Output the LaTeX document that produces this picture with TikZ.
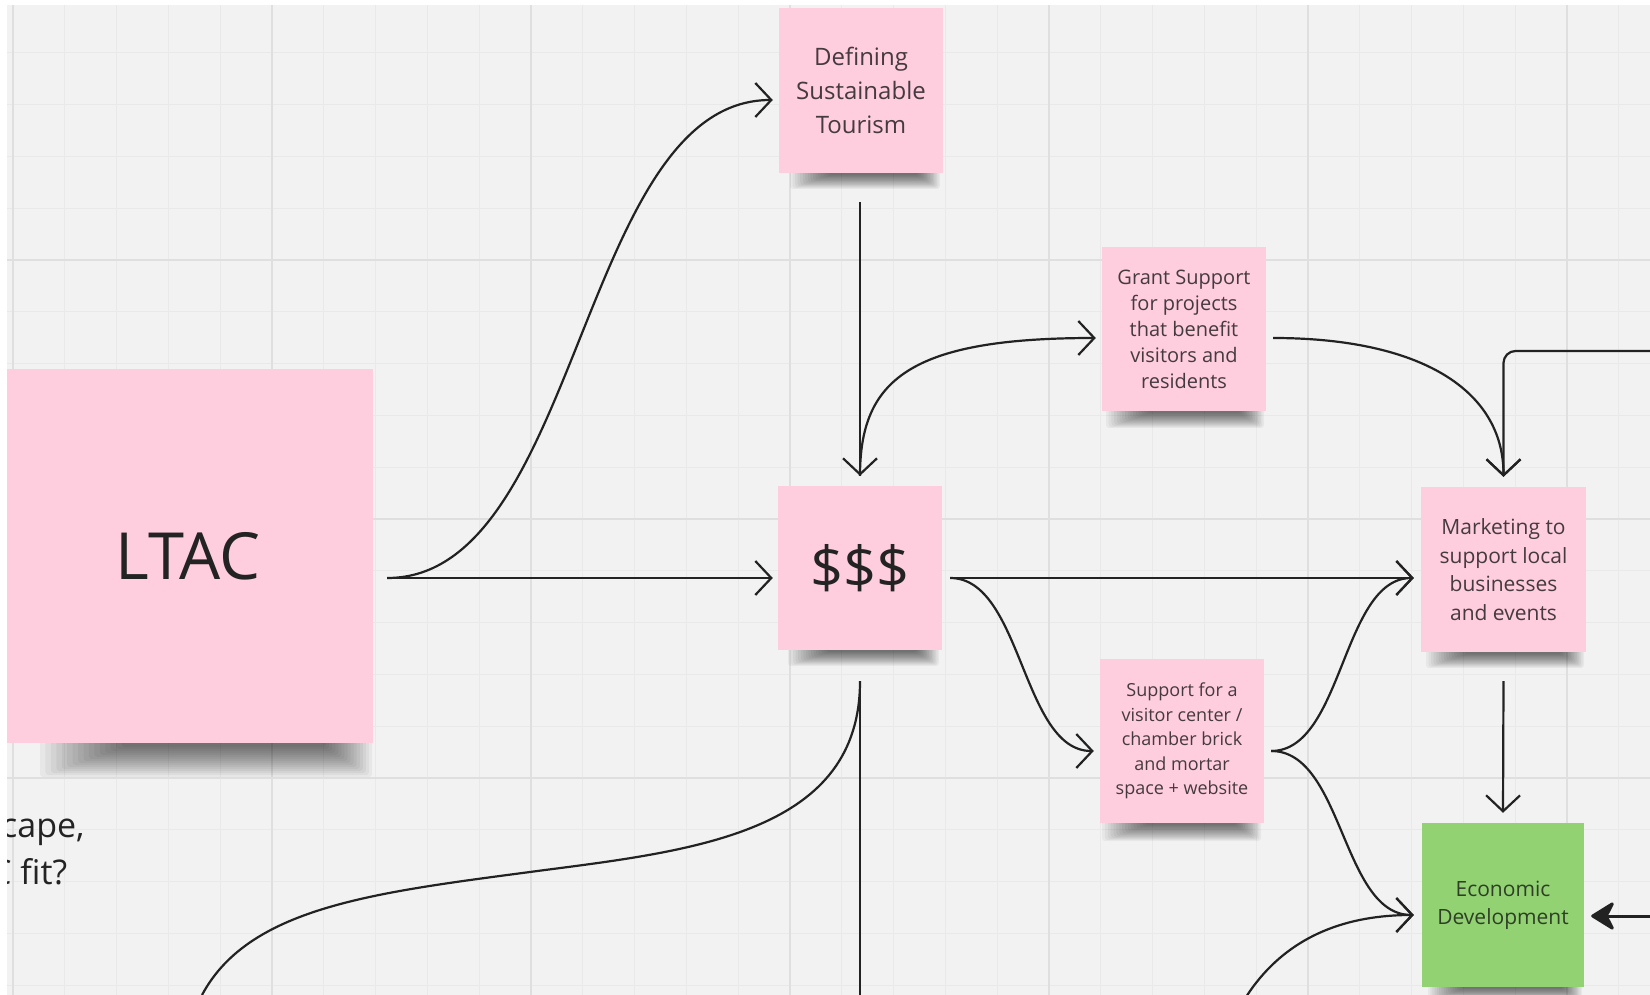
\documentclass[tikz,border=0pt]{standalone}
\usepackage{fontspec}
\setmainfont{Open Sans}
\usetikzlibrary{arrows.meta,calc}
\definecolor{bg}{HTML}{F2F2F2}
\definecolor{gridminor}{HTML}{E9E9E9}
\definecolor{gridmajor}{HTML}{DFDFDF}
\definecolor{notepink}{HTML}{FECDDE}
\definecolor{notegreen}{HTML}{92D273}
\definecolor{inkline}{HTML}{222222}
\definecolor{pinktext}{HTML}{453A3F}
\definecolor{greentext}{HTML}{2F3F27}
\definecolor{darktext}{HTML}{232323}
\newcommand{\noteshadow}[4]{%
  \foreach \k in {0,...,15}{%
    \fill[black, opacity=0.045, rounded corners=3pt]
      ({#1+\k*#4*0.16}, {#3-10}) rectangle ({#2-\k*#4*0.09}, {#3+#4*(1-\k/17)});
  }%
}
\tikzset{
  note/.style={rectangle, fill=notepink, inner sep=0pt, align=center, text=pinktext},
  greennote/.style={note, fill=notegreen, text=greentext},
  conn/.style={draw=inkline, line width=2.2pt, -{Straight Barb[length=16pt,width=34pt]}},
  plainconn/.style={draw=inkline, line width=2.2pt},
  boldconn/.style={draw=inkline, line width=3pt, -{Stealth[length=26pt,width=32pt,inset=8pt,round]}},
  gminor/.style={draw=gridminor, line width=1pt},
  gmajor/.style={draw=gridmajor, line width=1.3pt},
}
\begin{document}
\begin{tikzpicture}[x=1pt,y=-1pt]
\useasboundingbox (0,0) rectangle (1650,995);
\clip (0,0) rectangle (1650,995);
\fill[bg] (0,0) rectangle (1650,995);
% grid
\foreach \i in {0,...,32}{\draw[gminor] ({13+51.8*\i},0) -- ({13+51.8*\i},995);}
\foreach \i in {0,...,20}{\draw[gminor] (0,{1+51.8*\i}) -- (1650,{1+51.8*\i});}
\foreach \i in {0,5,...,30}{\draw[gmajor] ({13+51.8*\i},0) -- ({13+51.8*\i},995);}
\foreach \i in {0,5,...,20}{\draw[gmajor] (0,{1+51.8*\i}) -- (1650,{1+51.8*\i});}
% shadows
\noteshadow{40}{372}{743}{34}
\noteshadow{790}{940}{173}{16}
\noteshadow{788}{939}{650}{16}
\noteshadow{1106}{1264}{411}{17}
\noteshadow{1426}{1584}{652}{16}
\noteshadow{1102}{1261}{823}{18}
\noteshadow{1428}{1582}{987}{14}
% notes
\node[note, minimum width=370pt, minimum height=374pt, text=darktext,
      font=\fontsize{65}{75}\selectfont] (ltac) at (188,556) {LTAC};
\node[note, minimum width=164pt, minimum height=165pt,
      font=\fontsize{24}{34}\selectfont] (def) at (861,90.5) {Defining\\Sustainable\\Tourism};
\node[note, minimum width=164pt, minimum height=164pt, text=darktext,
      font=\fontsize{58}{64}\selectfont] (money) at (860,568) {\$\$\$};
\node[note, minimum width=164pt, minimum height=164pt,
      font=\fontsize{20}{26}\selectfont] (grant) at (1184,329) {Grant Support\\for projects\\that benefit\\visitors and\\residents};
\node[note, minimum width=165pt, minimum height=165pt,
      font=\fontsize{21}{28.5}\selectfont] (mkt) at (1503.5,569.5) {Marketing to\\support local\\businesses\\and events};
\node[note, minimum width=164pt, minimum height=164pt,
      font=\fontsize{18}{24.5}\selectfont] (visit) at (1182,741) {Support for a\\visitor center /\\chamber brick\\and mortar\\space + website};
\node[greennote, minimum width=162pt, minimum height=164pt,
      font=\fontsize{21}{28}\selectfont] (econ) at (1503,905) {Economic\\Development};
% connection points
\coordinate (ltacOut) at ($(ltac.east)+(14,22)$);
\coordinate (defIn) at ($(def.west)+(-6,9.5)$);
\coordinate (monIn) at ($(money.west)+(-5,10)$);
\coordinate (defOut) at ($(def.south)+(-1,29)$);
\coordinate (monTop) at ($(money.north)+(0,-10)$);
\coordinate (grantIn) at ($(grant.west)+(-6,9)$);
\coordinate (grantOut) at ($(grant.east)+(7,9)$);
\coordinate (mktTop) at ($(mkt.north)+(0,-10)$);
\coordinate (mktIn) at ($(mkt.west)+(-7,8.5)$);
\coordinate (monOut) at ($(money.east)+(8,10)$);
\coordinate (visIn) at ($(visit.west)+(-6,10)$);
\coordinate (visOut) at ($(visit.east)+(7,10)$);
\coordinate (econIn) at ($(econ.west)+(-8,10)$);
\coordinate (mktOut) at ($(mkt.south)+(0,29)$);
\coordinate (econTop) at ($(econ.north)+(0,-10)$);
\coordinate (monBot) at ($(money.south)+(0,31)$);
\coordinate (econRight) at ($(econ.east)+(7,11)$);
\coordinate (edgeA) at (1665,351);
\coordinate (edgeB) at (1665,916);
\coordinate (bottomL) at (202,995);
\coordinate (bottomM) at (860,1005);
\coordinate (bottomR) at (1200,1200);
% connectors
\draw[conn] (ltacOut) .. controls +(193,0) and +(-193,0) .. (defIn);
\draw[conn] (ltacOut) -- (monIn);
\draw[conn] (defOut) -- (monTop);
\draw[conn] (monTop) .. controls +(0,-96) and +(-186,0) .. (grantIn);
\draw[conn] (grantOut) .. controls +(147,0) and +(0,-87) .. (mktTop);
\draw[conn, rounded corners=12pt] (edgeA) -| (mktTop);
\draw[conn] (monOut) -- (mktIn);
\draw[conn] (monOut) .. controls +(72,0) and +(-72,0) .. (visIn);
\draw[conn] (visOut) .. controls +(72,0) and +(-72,0) .. (mktIn);
\draw[conn] (visOut) .. controls +(72,0) and +(-72,0) .. (econIn);
\draw[conn] (mktOut) -- (econTop);
\draw[plainconn] (monBot) -- (bottomM);
\draw[plainconn] (monBot) .. controls (860,830) and (700,850) .. (545,870)
                 .. controls (380,892) and (250,905) .. (bottomL);
\draw[conn] (bottomR) .. controls +(0,-200) and +(-134,0) .. (econIn);
\draw[boldconn] (edgeB) -- (econRight);
% cut-off text at left
\node[anchor=base west, inner sep=0pt, text=darktext, font=\fontsize{34}{40}\selectfont] (txtA) at (1,837) {cape,};
\node[anchor=base west, inner sep=0pt, text=darktext, font=\fontsize{34}{40}\selectfont] (txtB) at (-10,884) {C fit?};
% white margins
\fill[white] (0,0) rectangle (1650,5);
\fill[white] (0,0) rectangle (7,995);
\end{tikzpicture}
\end{document}
